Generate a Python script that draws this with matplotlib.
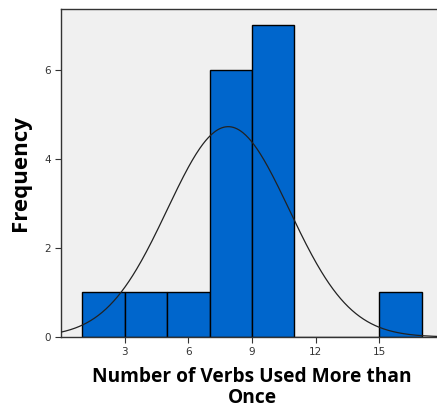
"""Histogram of verbs used more than once, with a fitted normal curve."""

import numpy as np
import matplotlib.pyplot as plt

# histogram bins (left edges, width 2) and counts
bin_edges = [1, 3, 5, 7, 9, 11, 13, 15, 17]
counts = [1, 1, 1, 6, 7, 0, 0, 1]

# normal curve parameters estimated from the chart
curve_mean, curve_sd = 7.88, 2.87
n_cases = sum(counts)
bin_width = 2

xticks = [3, 6, 9, 12, 15]
yticks = [0, 2, 4, 6]

W, H = 437, 407
fig = plt.figure(figsize=(W / 100, H / 100), dpi=100)
# axes deliberately run past the right edge, as in the reference
x0, x1 = 61, 443
y0, y1 = 337, 9
ax = fig.add_axes([x0 / W, 1 - y0 / H, (x1 - x0) / W, (y0 - y1) / H])
ax.set_facecolor('#f0f0f0')

ax.hist(bin_edges[:-1], bins=bin_edges, weights=counts, color='#0066cc',
        edgecolor='black', linewidth=1.0, zorder=2)

xs = np.linspace(0, 18, 400)
ys = n_cases * bin_width / (curve_sd * np.sqrt(2 * np.pi)) * np.exp(-(xs - curve_mean) ** 2 / (2 * curve_sd ** 2))
ax.plot(xs, ys, color='#222222', lw=0.9, zorder=3)

ax.set_xlim(0, 18)
ax.set_ylim(0, 7.37)
ax.set_xticks(xticks)
ax.set_yticks(yticks)
ax.tick_params(labelsize=7.5, colors='#333333', length=4, width=0.8)
for s in ax.spines.values():
    s.set_color('#333333')
    s.set_linewidth(1.0)

ax.set_xlabel('Number of Verbs Used More than\nOnce', fontsize=13.8, fontweight='bold',
              family='Open Sans', linespacing=1.05, labelpad=7)
ax.set_ylabel('Frequency', fontsize=16, fontweight='bold', family='Open Sans', labelpad=9)

fig.savefig('out.png', dpi=100)
